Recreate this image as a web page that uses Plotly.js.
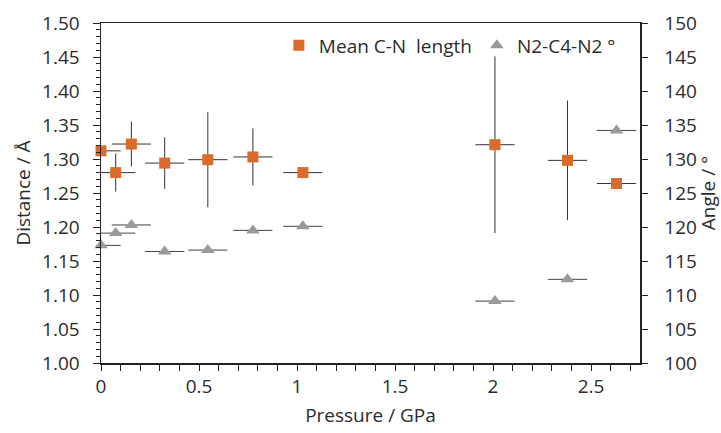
<!DOCTYPE html>
<html>
<head>
<meta charset="utf-8">
<script src="https://cdn.plot.ly/plotly-3.0.1.min.js"></script>
<style>html,body{margin:0;padding:0;background:#fff;}#chart{width:721px;height:433px;}</style>
</head>
<body>
<div id="chart"></div>
<script>
// Pressure (GPa)
const pressure = [0, 0.075, 0.155, 0.325, 0.545, 0.775, 1.03, 2.01, 2.38, 2.63];
const pressureErr = [0.1, 0.1, 0.1, 0.1, 0.1, 0.1, 0.1, 0.1, 0.1, 0.1];
// Mean C-N length (Å)
const meanCN = [1.312, 1.280, 1.322, 1.294, 1.299, 1.303, 1.280, 1.321, 1.298, 1.264];
const meanCNErr = [0, 0.028, 0.033, 0.038, 0.07, 0.042, 0, 0.13, 0.088, 0];
// N2-C4-N2 angle (°)
const angle = [117.3, 119.1, 120.3, 116.4, 116.6, 119.5, 120.1, 109.1, 112.3, 134.2];

const xRange = [0, 2.75];
const xErrMinus = pressure.map((p, i) => Math.min(pressureErr[i], p - xRange[0]));

const FONT = 'Open Sans, Lato, sans-serif';
const FS = 19;
const TXT = '#2b2b2b';
const AX = '#222222';

const traces = [
  {
    x: pressure, y: meanCN, type: 'scatter', mode: 'markers', name: 'Mean C-N\u00a0 length',
    marker: {symbol: 'square', size: 11, color: '#DB6B2B'},
    error_x: {type: 'data', array: pressureErr, arrayminus: xErrMinus, symmetric: false, color: '#333333', thickness: 1, width: 0},
    error_y: {type: 'data', array: meanCNErr, color: '#333333', thickness: 1, width: 0},
    cliponaxis: false, xaxis: 'x', yaxis: 'y'
  },
  {
    x: pressure, y: angle, type: 'scatter', mode: 'markers', name: 'N2-C4-N2 °',
    marker: {symbol: 'triangle-up', size: 12, color: '#9A9A9A'},
    error_x: {type: 'data', array: pressureErr, arrayminus: xErrMinus, symmetric: false, color: '#444444', thickness: 1, width: 0},
    cliponaxis: false, xaxis: 'x', yaxis: 'y2'
  }
];

const layout = {
  width: 721, height: 433,
  margin: {l: 101, r: 81, t: 23, b: 70},
  paper_bgcolor: '#ffffff', plot_bgcolor: '#ffffff',
  font: {family: FONT, size: FS, color: TXT},
  showlegend: true,
  legend: {orientation: 'h', x: 0.33, xanchor: 'left', y: 0.99, yanchor: 'top',
           bgcolor: 'rgba(0,0,0,0)', font: {family: FONT, size: FS, color: TXT}, traceorder: 'normal'},
  xaxis: {
    range: xRange, dtick: 0.5, tick0: 0, ticks: 'outside', ticklen: 6, tickwidth: 1, tickcolor: AX,
    minor: {dtick: 0.1, ticks: 'outside', ticklen: 6, tickwidth: 1, tickcolor: AX, showgrid: false},
    showline: true, linecolor: AX, linewidth: 1.5, mirror: true, showgrid: false, zeroline: false,
    title: {text: 'Pressure / GPa', font: {family: FONT, size: FS, color: TXT}, standoff: 10}
  },
  yaxis: {
    range: [1.0, 1.5], dtick: 0.05, tick0: 1.0, tickformat: '.2f', ticks: 'outside', ticklen: 7, tickwidth: 1, tickcolor: AX,
    minor: {dtick: 0.01, ticks: 'outside', ticklen: 4, tickwidth: 1, tickcolor: AX, showgrid: false},
    showline: true, linecolor: AX, linewidth: 1.5, showgrid: false, zeroline: false,
    ticklabelstandoff: 9,
    title: {text: 'Distance / Å', font: {family: FONT, size: FS, color: TXT}, standoff: 6}
  },
  yaxis2: {
    range: [100, 150], dtick: 5, tick0: 100, overlaying: 'y', side: 'right', anchor: 'x',
    ticks: 'outside', ticklen: 6, tickwidth: 1, tickcolor: AX,
    showline: true, linecolor: AX, linewidth: 1.5, showgrid: false, zeroline: false,
    ticklabelstandoff: 13,
    title: {text: 'Angle / °', font: {family: FONT, size: FS, color: TXT}, standoff: 6}
  }
};

Plotly.newPlot('chart', traces, layout, {displayModeBar: false, staticPlot: true});
</script>
</body>
</html>
